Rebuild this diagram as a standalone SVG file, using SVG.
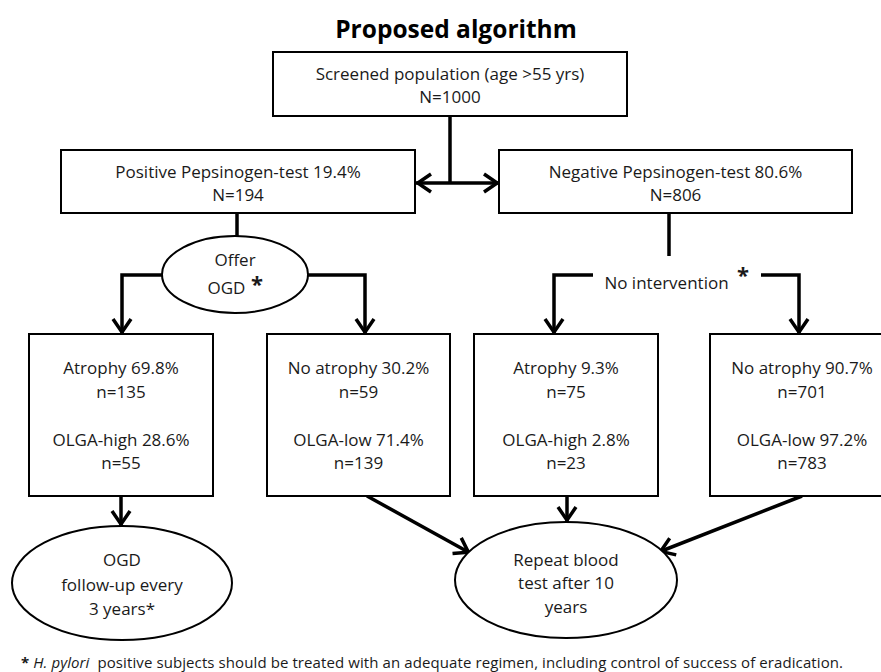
<svg xmlns="http://www.w3.org/2000/svg" width="881" height="672" viewBox="0 0 881 672">
<style>
text{font-family:"Open Sans","Liberation Sans",sans-serif;font-size:17px;fill:#1a1a1a;text-anchor:middle}
.title{font-size:24.5px;font-weight:bold;fill:#000}
.box{fill:#fff;stroke:#000;stroke-width:2}
.ell{fill:#fff;stroke:#000;stroke-width:2}
.con{fill:none;stroke:#000;stroke-width:3.5}
.arr{marker-end:url(#ah)}
.star{font-size:22px;font-weight:bold}
.foot{font-size:15px;text-anchor:start}
</style>
<defs>
<marker id="ah" viewBox="-18 -11 20 22" markerWidth="20" markerHeight="22" refX="0" refY="0" orient="auto-start-reverse" markerUnits="userSpaceOnUse">
<path d="M-15,-9 L-1.8,0 L-15,9" fill="none" stroke="#000" stroke-width="3.5"/>
</marker>
</defs>
<rect width="881" height="672" fill="#fff"/>
<text class="title" x="456" y="38">Proposed algorithm</text>

<g id="connectors">
<path class="con" d="M450,116 V183"/>
<path class="con" d="M416,183 H499" marker-start="url(#ah)" marker-end="url(#ah)"/>
<path class="con" d="M237,213 V236"/>
<path class="con arr" d="M162,275 H122 V334"/>
<path class="con arr" d="M308,275 H365 V334"/>
<path class="con" d="M669,213 V256"/>
<path class="con arr" d="M593,275 H554 V334"/>
<path class="con arr" d="M761,275 H799 V334"/>
<path class="con arr" d="M121,496 V526"/>
<path class="con arr" d="M367,496 L470,553"/>
<path class="con arr" d="M567,496 V522"/>
<path class="con arr" d="M802,496 L659,552"/>
</g>

<g id="screened">
<rect class="box" x="273" y="52" width="354" height="64"/>
<text x="450" y="80">Screened population (age &gt;55 yrs)</text>
<text x="450" y="103">N=1000</text>
</g>
<g id="positive">
<rect class="box" x="61" y="150" width="354" height="63"/>
<text x="238" y="178">Positive Pepsinogen-test 19.4%</text>
<text x="238" y="201">N=194</text>
</g>
<g id="negative">
<rect class="box" x="499" y="150" width="353" height="63"/>
<text x="675.5" y="178">Negative Pepsinogen-test 80.6%</text>
<text x="675.5" y="201">N=806</text>
</g>
<g id="offer">
<ellipse class="ell" cx="235" cy="274.5" rx="73" ry="38.5"/>
<text x="235" y="266">Offer</text>
<text x="226.5" y="294">OGD</text>
<text class="star" x="257" y="292">*</text>
</g>
<g id="nointervention">
<text x="666.5" y="289">No intervention</text>
<text class="star" x="743" y="283">*</text>
</g>
<g id="box1">
<rect class="box" x="29" y="334" width="184" height="162"/>
<text x="121" y="374">Atrophy 69.8%</text>
<text x="121" y="398">n=135</text>
<text x="121" y="446">OLGA-high 28.6%</text>
<text x="121" y="469">n=55</text>
</g>
<g id="box2">
<rect class="box" x="267" y="334" width="183" height="162"/>
<text x="358.5" y="374">No atrophy 30.2%</text>
<text x="358.5" y="398">n=59</text>
<text x="358.5" y="446">OLGA-low 71.4%</text>
<text x="358.5" y="469">n=139</text>
</g>
<g id="box3">
<rect class="box" x="474" y="334" width="184" height="162"/>
<text x="566" y="374">Atrophy 9.3%</text>
<text x="566" y="398">n=75</text>
<text x="566" y="446">OLGA-high 2.8%</text>
<text x="566" y="469">n=23</text>
</g>
<g id="box4">
<rect class="box" x="710" y="334" width="184" height="162"/>
<text x="802" y="374">No atrophy 90.7%</text>
<text x="802" y="398">n=701</text>
<text x="802" y="446">OLGA-low 97.2%</text>
<text x="802" y="469">n=783</text>
</g>
<g id="ogdfollow">
<ellipse class="ell" cx="122" cy="583" rx="110" ry="57"/>
<text x="122" y="566">OGD</text>
<text x="122" y="591">follow-up every</text>
<text x="122" y="615">3 years*</text>
</g>
<g id="repeat">
<ellipse class="ell" cx="566" cy="580" rx="111" ry="58"/>
<text x="566" y="566">Repeat blood</text>
<text x="566" y="589">test after 10</text>
<text x="566" y="613">years</text>
</g>
<text class="foot" x="21" y="668" xml:space="preserve" textLength="822" lengthAdjust="spacing"><tspan font-weight="bold">*</tspan> <tspan font-style="italic">H. pylori</tspan>  positive subjects should be treated with an adequate regimen, including control of success of eradication.</text>
</svg>
